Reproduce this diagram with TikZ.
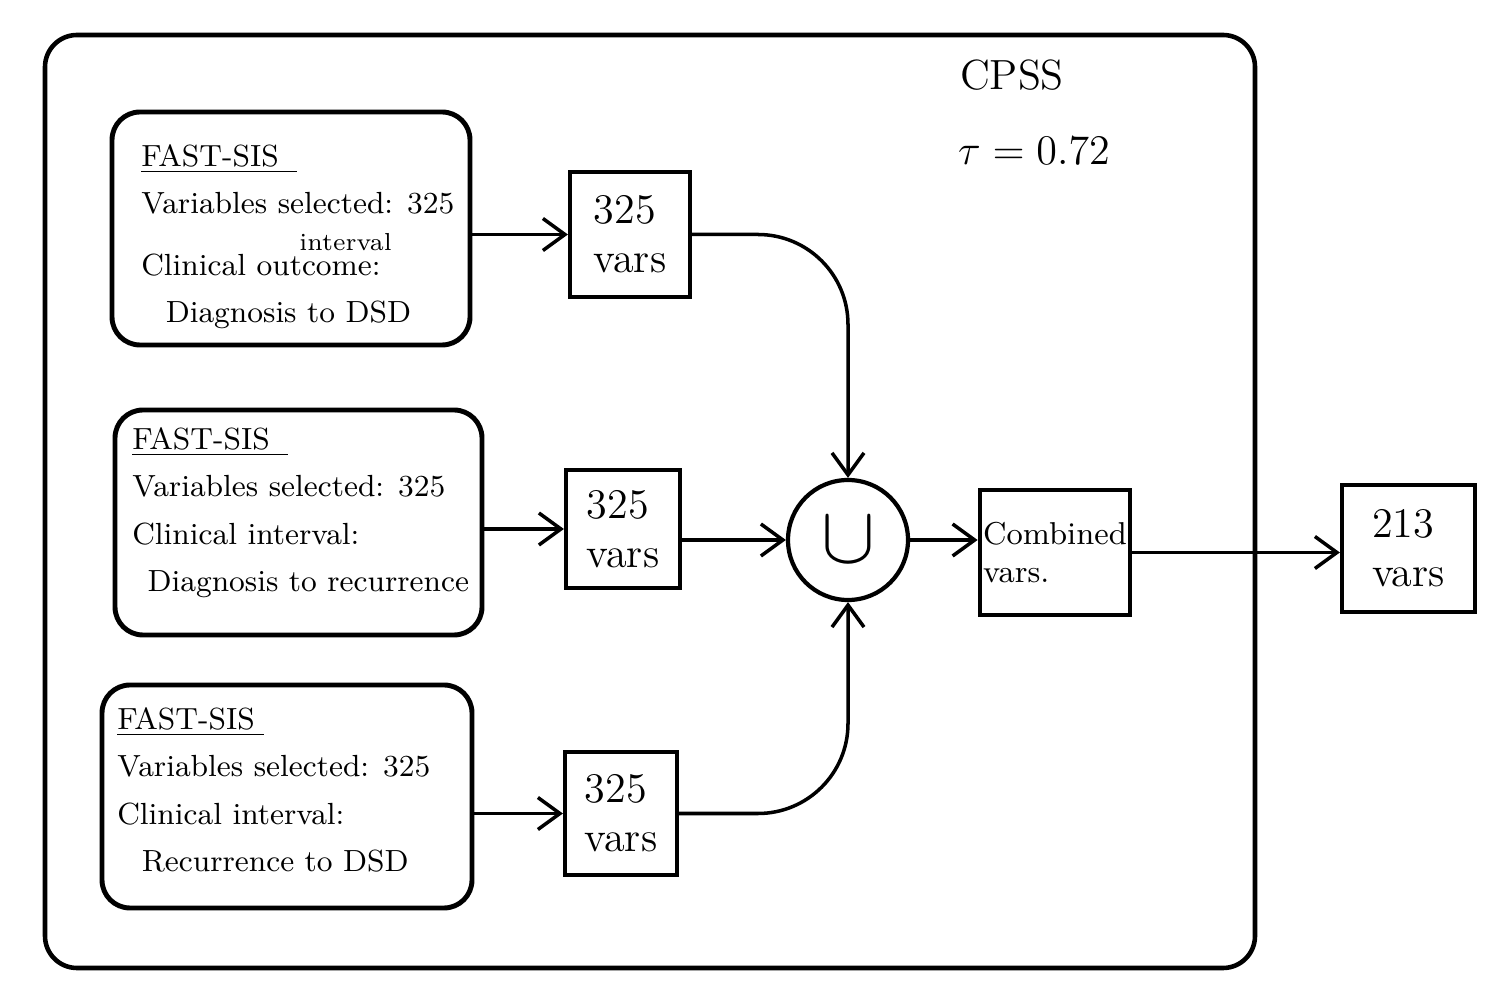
\documentclass[tikz,border=0pt]{standalone}
\usepackage{amsmath,amssymb}
\usepackage{tikz}
\usetikzlibrary{positioning,arrows.meta,calc}

\begin{document}
\begin{tikzpicture}[->, >={Straight Barb[length=2.2mm,width=3.2mm]}, line width=1pt,
    frame/.style={draw, rounded corners=0.32cm, line width=1.3pt},
    panel/.style={draw, rounded corners=0.28cm, line width=1.4pt},
    panetext/.style={align=left, inner sep=0pt, font=\fontsize{8.7}{13.5}\selectfont},
    varbox/.style={draw, line width=1.2pt, align=left, font=\large, inner sep=1pt},
    union/.style={draw, circle, line width=1.2pt, minimum size=1.2cm, inner sep=0pt}]
    \useasboundingbox (0,0) rectangle (15.1,-10);

    % outer CPSS frame
    \node[frame, minimum width=12.1cm, minimum height=9.33cm] (cpss) at (6.5,-5.015) {};
    \node[font=\large] (cpsslabel) at (10.12,-0.75) {CPSS};
    \node[font=\large, below=0.2cm of cpsslabel.south, xshift=0.22cm] (tau) {$\tau = 0.72$};

    % FAST-SIS panels
    \node[panel, minimum width=3.58cm, minimum height=2.33cm] (fs1) at (2.91,-2.285) {};
    \node[panel, minimum width=3.67cm, minimum height=2.25cm] (fs2) at (2.985,-5.225) {};
    \node[panel, minimum width=3.70cm, minimum height=2.23cm] (fs3) at (2.87,-7.965) {};

    \node[panetext, below right=0.33cm and 0.3cm of fs1.north west] (fs1txt)
        {\underline{FAST-SIS\hspace{0.6em}}\\
         Variables selected: 325\\[4pt]
         Clinical \rlap{\raisebox{1.9ex}{\hspace{1.4em}\scriptsize interval}}outcome:\\
         \hspace*{0.8em}Diagnosis to DSD};
    \node[panetext, below right=0.18cm and 0.18cm of fs2.north west] (fs2txt)
        {\underline{FAST-SIS\hspace{0.6em}}\\
         Variables selected: 325\\
         Clinical interval:\\
         \hspace*{0.5em}Diagnosis to recurrence};
    \node[panetext, below right=0.23cm and 0.16cm of fs3.north west] (fs3txt)
        {\underline{FAST-SIS\hspace{0.3em}}\\
         Variables selected: 325\\
         Clinical interval:\\
         \hspace*{0.8em}Recurrence to DSD};

    % selected variable sets
    \node[varbox, minimum width=1.2cm, minimum height=1.25cm] (v1) at (6.30,-2.345) {325\\vars};
    \node[varbox, minimum width=1.14cm, minimum height=1.18cm] (v2) at (6.23,-5.29) {325\\vars};
    \node[varbox, minimum width=1.12cm, minimum height=1.23cm] (v3) at (6.21,-8.135) {325\\vars};

    \node[union] (u) at (8.48,-5.40) {\scalebox{2.3}{$\cup$}};
    \node[varbox, font=\small, minimum width=1.34cm, minimum height=1.25cm] (comb) at (10.55,-5.525) {Combined\\vars.};
    \node[varbox, minimum width=1.33cm, minimum height=1.27cm] (final) at (14.085,-5.485) {213\\vars};

    % connectors
    \draw (fs1.east |- v1.west) -- (v1.west);
    \draw (fs2.east |- v2.west) -- (v2.west);
    \draw (fs3.east |- v3.west) -- (v3.west);
    \draw[rounded corners=0.9cm] (v1.east) -| (u.north);
    \draw (v2.east |- u.west) -- (u.west);
    \draw[rounded corners=0.9cm] (v3.east) -| (u.south);
    \draw (u.east) -- (comb.west |- u.east);
    \draw (comb.east) -- (final.west |- comb.east);
\end{tikzpicture}
\end{document}
